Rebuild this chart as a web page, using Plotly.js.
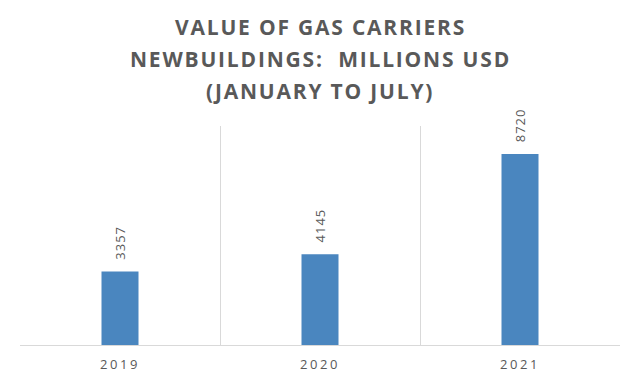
<!DOCTYPE html>
<html>
<head>
<meta charset="utf-8">
<script src="https://cdn.plot.ly/plotly-3.0.1.min.js"></script>
<style>
  html, body { margin: 0; padding: 0; background: #fff; }
  #chart { width: 640px; height: 384px; }
  .annotation-text { letter-spacing: 1.8px; }
  .xtick text { letter-spacing: 2.6px; }
  .bartext text, text.bartext { letter-spacing: 1px; }
</style>
</head>
<body>
<div id="chart"></div>
<script>
const categories = ["2019", "2020", "2021"];
const values = [3357, 4145, 8720];
const labels = ["3357", "4145", "8720"];
const titleLines = ["VALUE OF GAS CARRIERS", "NEWBUILDINGS:\u00a0 MILLIONS USD", "(JANUARY TO JULY)"];
const titleLineY = [1.452, 1.306, 1.160];

const trace = {
  type: "bar",
  x: categories,
  y: values,
  text: labels,
  texttemplate: "\u00a0\u00a0%{text}",
  textposition: "outside",
  textangle: -90,
  constraintext: "none",
  cliponaxis: false,
  textfont: { family: "Open Sans, sans-serif", size: 13, color: "#595959" },
  marker: { color: "#4a86bf" },
  width: 0.185,
  hoverinfo: "skip"
};

const titleFont = { family: "Open Sans, sans-serif", size: 21, color: "#595959", weight: "bold" };

const layout = {
  width: 640,
  height: 384,
  margin: { l: 20, r: 20, t: 126, b: 39 },
  paper_bgcolor: "#ffffff",
  plot_bgcolor: "#ffffff",
  showlegend: false,
  annotations: titleLines.map((t, i) => ({
    text: t,
    xref: "paper", yref: "paper",
    x: 0.5, y: titleLineY[i],
    xanchor: "center", yanchor: "middle",
    showarrow: false,
    font: titleFont
  })),
  xaxis: {
    type: "category",
    tickson: "boundaries",
    showgrid: true,
    gridcolor: "#d9d9d9",
    gridwidth: 1,
    showline: true,
    linecolor: "#d9d9d9",
    linewidth: 1,
    ticks: "",
    ticklabelstandoff: 7,
    tickfont: { family: "Open Sans, sans-serif", size: 13, color: "#595959" },
    range: [-0.5, 2.5],
    fixedrange: true
  },
  yaxis: {
    range: [0, 10000],
    showgrid: false,
    zeroline: false,
    showticklabels: false,
    showline: false,
    fixedrange: true
  },
  bargap: 0.8
};

Plotly.newPlot("chart", [trace], layout, { displayModeBar: false, staticPlot: true });
</script>
</body>
</html>
